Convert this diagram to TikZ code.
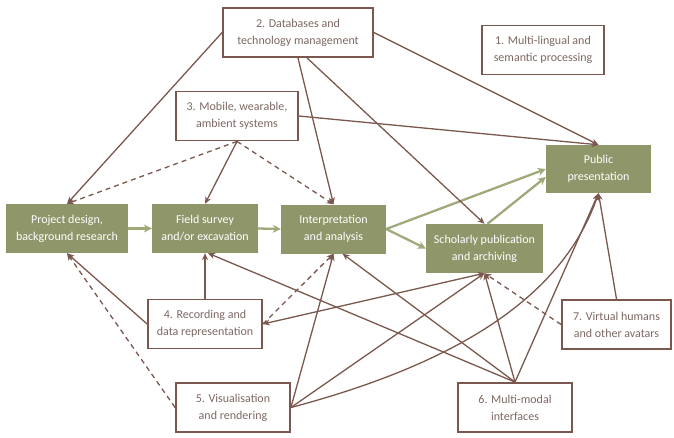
\documentclass[tikz,border=0pt]{standalone}
\usepackage{fontspec}
\setmainfont{Carlito}
\usetikzlibrary{arrows.meta}
\definecolor{brownline}{RGB}{122,88,78}
\definecolor{olivebox}{RGB}{143,150,106}
\definecolor{olivearrow}{RGB}{158,170,122}
\definecolor{boxtext}{RGB}{125,104,98}
\begin{document}
\begin{tikzpicture}[x=1pt,y=-1pt,>={Stealth[length=7pt,width=6pt]},
  techbox/.style={draw=brownline,line width=1.8pt,fill=white,text=boxtext,align=center,
    inner sep=0pt,minimum height=49pt,font=\fontsize{12}{17}\selectfont},
  stagebox/.style={fill=olivebox,text=white,align=center,
    inner sep=0pt,minimum height=49pt,font=\fontsize{12}{17}\selectfont},
  link/.style={->,draw=brownline,line width=1.3pt},
  weaklink/.style={link,dash pattern=on 5pt off 4pt},
  flow/.style={-{Stealth[length=8pt,width=8pt]},draw=olivearrow,line width=2.3pt}]
  \useasboundingbox (0,0) rectangle (674,437);

  % Top: technology boxes
  \node[techbox,minimum width=150pt] (db) at (298,32.5) {2. Databases and\\technology management};
  \node[techbox,minimum width=122pt] (lang) at (543,50) {1. Multi-lingual and\\semantic processing};
  \node[techbox,minimum width=122pt] (mob) at (237,116) {3. Mobile, wearable,\\ambient systems};

  % Middle: workflow stages
  \node[stagebox,minimum width=122pt] (proj) at (67,228.5) {Project design,\\background research};
  \node[stagebox,minimum width=106pt] (field) at (205,228.5) {Field survey\\and/or excavation};
  \node[stagebox,minimum width=105pt] (interp) at (333.5,229) {Interpretation\\and analysis};
  \node[stagebox,minimum width=117pt] (schol) at (484.5,248.5) {Scholarly publication\\and archiving};
  \node[stagebox,minimum width=105pt,minimum height=48pt] (pub) at (598.5,169) {Public\\presentation};

  % Bottom: technology boxes
  \node[techbox,minimum width=114pt] (rec) at (205,324) {4. Recording and\\data representation};
  \node[techbox,minimum width=114pt] (vis) at (233,407.5) {5. Visualisation\\and rendering};
  \node[techbox,minimum width=114pt] (mm) at (515,407.5) {6. Multi-modal\\interfaces};
  \node[techbox,minimum width=109pt] (vh) at (616.5,324.5) {7. Virtual humans\\and other avatars};

  % workflow
  \draw[flow] (proj.east) -- (field.west);
  \draw[flow] (field.east) -- (interp.west);
  \draw[flow] (interp.east) -- (pub.west);
  \draw[flow] (interp.east) -- (schol.west);
  \draw[flow] ([xshift=3pt]schol.north) -- ([yshift=-8pt]pub.west);

  % links from above
  \draw[link] (db.west) -- (proj.north);
  \draw[link] (db.south) -- (interp.north);
  \draw[link] ([xshift=9pt]db.south) -- (schol.north);
  \draw[link] (db.east) -- (pub.north);
  \draw[link] (mob.east) -- (pub.north);
  \draw[link] (mob.south) -- (field.north);
  \draw[weaklink] (mob.south) -- (proj.north);
  \draw[weaklink] (mob.south) -- (interp.north);

  % links from below
  \draw[link] (rec.north) -- (field.south);
  \draw[link] (rec.west) -- (proj.south);
  \draw[weaklink] (rec.east) -- (interp.south);
  \draw[link,<->] (rec.east) -- (schol.south);
  \draw[weaklink] (vis.west) -- (proj.south);
  \draw[link] (vis.east) -- (interp.south);
  \draw[link] (vis.east) -- (schol.south);
  \draw[link] (vis.east) .. controls (470,360) and (565,290) .. (pub.south);
  \draw[link] (mm.north) -- ([xshift=3pt]field.south);
  \draw[link] (mm.north) -- ([xshift=9pt]interp.south);
  \draw[link] (mm.north) -- (schol.south);
  \draw[link] (mm.north) -- (pub.south);
  \draw[weaklink] (vh.west) -- (schol.south);
  \draw[link] (vh.north) -- (pub.south);
\end{tikzpicture}
\end{document}
